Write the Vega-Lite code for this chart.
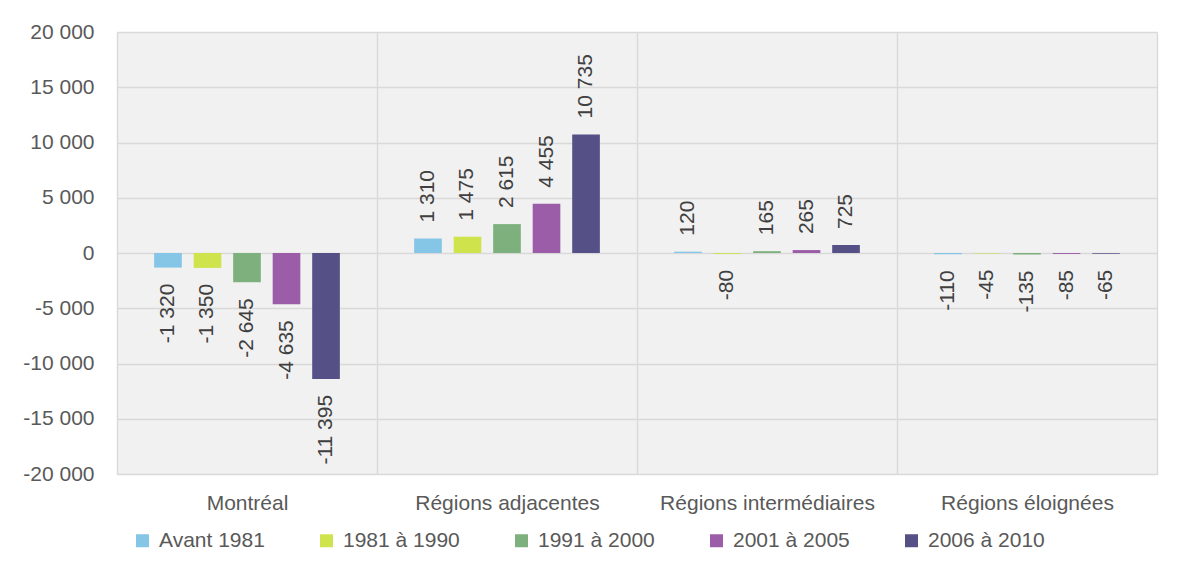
{
  "$schema": "https://vega.github.io/schema/vega-lite/v6.json",
  "autosize": "none",
  "width": 1040,
  "height": 442,
  "padding": {"left": 117, "top": 32, "right": 22, "bottom": 89},
  "background": "#ffffff",
  "config": {
    "locale": {"number": {"decimal": ",", "thousands": " ", "grouping": [3], "currency": ["", " $"], "minus": "-"}},
    "font": "Liberation Sans",
    "view": {"fill": "#f1f1f1", "stroke": null},
    "axis": {"labelFont": "Liberation Sans", "labelFontSize": 21, "labelColor": "#595959", "gridColor": "#d9d9d9", "gridWidth": 1.4, "domain": false, "ticks": false, "title": null}
  },
  "data": {"values": [
    {"region": "Montréal", "period": "Avant 1981", "value": -1320},
    {"region": "Montréal", "period": "1981 à 1990", "value": -1350},
    {"region": "Montréal", "period": "1991 à 2000", "value": -2645},
    {"region": "Montréal", "period": "2001 à 2005", "value": -4635},
    {"region": "Montréal", "period": "2006 à 2010", "value": -11395},
    {"region": "Régions adjacentes", "period": "Avant 1981", "value": 1310},
    {"region": "Régions adjacentes", "period": "1981 à 1990", "value": 1475},
    {"region": "Régions adjacentes", "period": "1991 à 2000", "value": 2615},
    {"region": "Régions adjacentes", "period": "2001 à 2005", "value": 4455},
    {"region": "Régions adjacentes", "period": "2006 à 2010", "value": 10735},
    {"region": "Régions intermédiaires", "period": "Avant 1981", "value": 120},
    {"region": "Régions intermédiaires", "period": "1981 à 1990", "value": -80},
    {"region": "Régions intermédiaires", "period": "1991 à 2000", "value": 165},
    {"region": "Régions intermédiaires", "period": "2001 à 2005", "value": 265},
    {"region": "Régions intermédiaires", "period": "2006 à 2010", "value": 725},
    {"region": "Régions éloignées", "period": "Avant 1981", "value": -110},
    {"region": "Régions éloignées", "period": "1981 à 1990", "value": -45},
    {"region": "Régions éloignées", "period": "1991 à 2000", "value": -135},
    {"region": "Régions éloignées", "period": "2001 à 2005", "value": -85},
    {"region": "Régions éloignées", "period": "2006 à 2010", "value": -65}
  ]},
  "encoding": {
    "x": {"field": "region", "type": "nominal", "sort": null,
      "scale": {"paddingInner": 0, "paddingOuter": 0},
      "axis": {"labelAngle": 0, "labelPadding": 18, "labelLimit": 400, "grid": true, "tickBand": "extent"}},
    "xOffset": {"field": "period", "type": "nominal", "sort": null,
      "scale": {"paddingInner": 0.3, "paddingOuter": 0.94}},
    "y": {"field": "value", "type": "quantitative",
      "scale": {"domain": [-20000, 20000], "nice": false, "zero": false},
      "axis": {"values": [-20000, -15000, -10000, -5000, 0, 5000, 10000, 15000, 20000], "format": ",d", "labelPadding": 23, "grid": true}}
  },
  "layer": [
    {
      "mark": {"type": "bar"},
      "encoding": {
        "color": {"field": "period", "type": "nominal", "sort": null,
          "scale": {"domain": ["Avant 1981", "1981 à 1990", "1991 à 2000", "2001 à 2005", "2006 à 2010"],
                    "range": ["#85c5e6", "#cfe34d", "#7db07d", "#9b5ca8", "#555086"]},
          "legend": {"title": null, "orient": "none", "direction": "horizontal", "legendX": 15, "legendY": 498,
            "symbolType": "square", "symbolSize": 169, "symbolStrokeWidth": 0, "labelFont": "Liberation Sans", "labelFontSize": 21, "labelColor": "#595959",
            "labelOffset": 6, "columnPadding": 51, "padding": 0, "labelLimit": 300}}
      }
    },
    {
      "transform": [{"filter": "datum.value >= 0"}],
      "mark": {"type": "text", "angle": 270, "align": "left", "baseline": "middle", "dx": 16, "fontSize": 21, "font": "Liberation Sans", "color": "#404040"},
      "encoding": {"text": {"field": "value", "type": "quantitative", "format": ",d"}}
    },
    {
      "transform": [{"filter": "datum.value < 0"}],
      "mark": {"type": "text", "angle": 270, "align": "right", "baseline": "middle", "dx": -16, "fontSize": 21, "font": "Liberation Sans", "color": "#404040"},
      "encoding": {"text": {"field": "value", "type": "quantitative", "format": ",d"}}
    }
  ]
}
